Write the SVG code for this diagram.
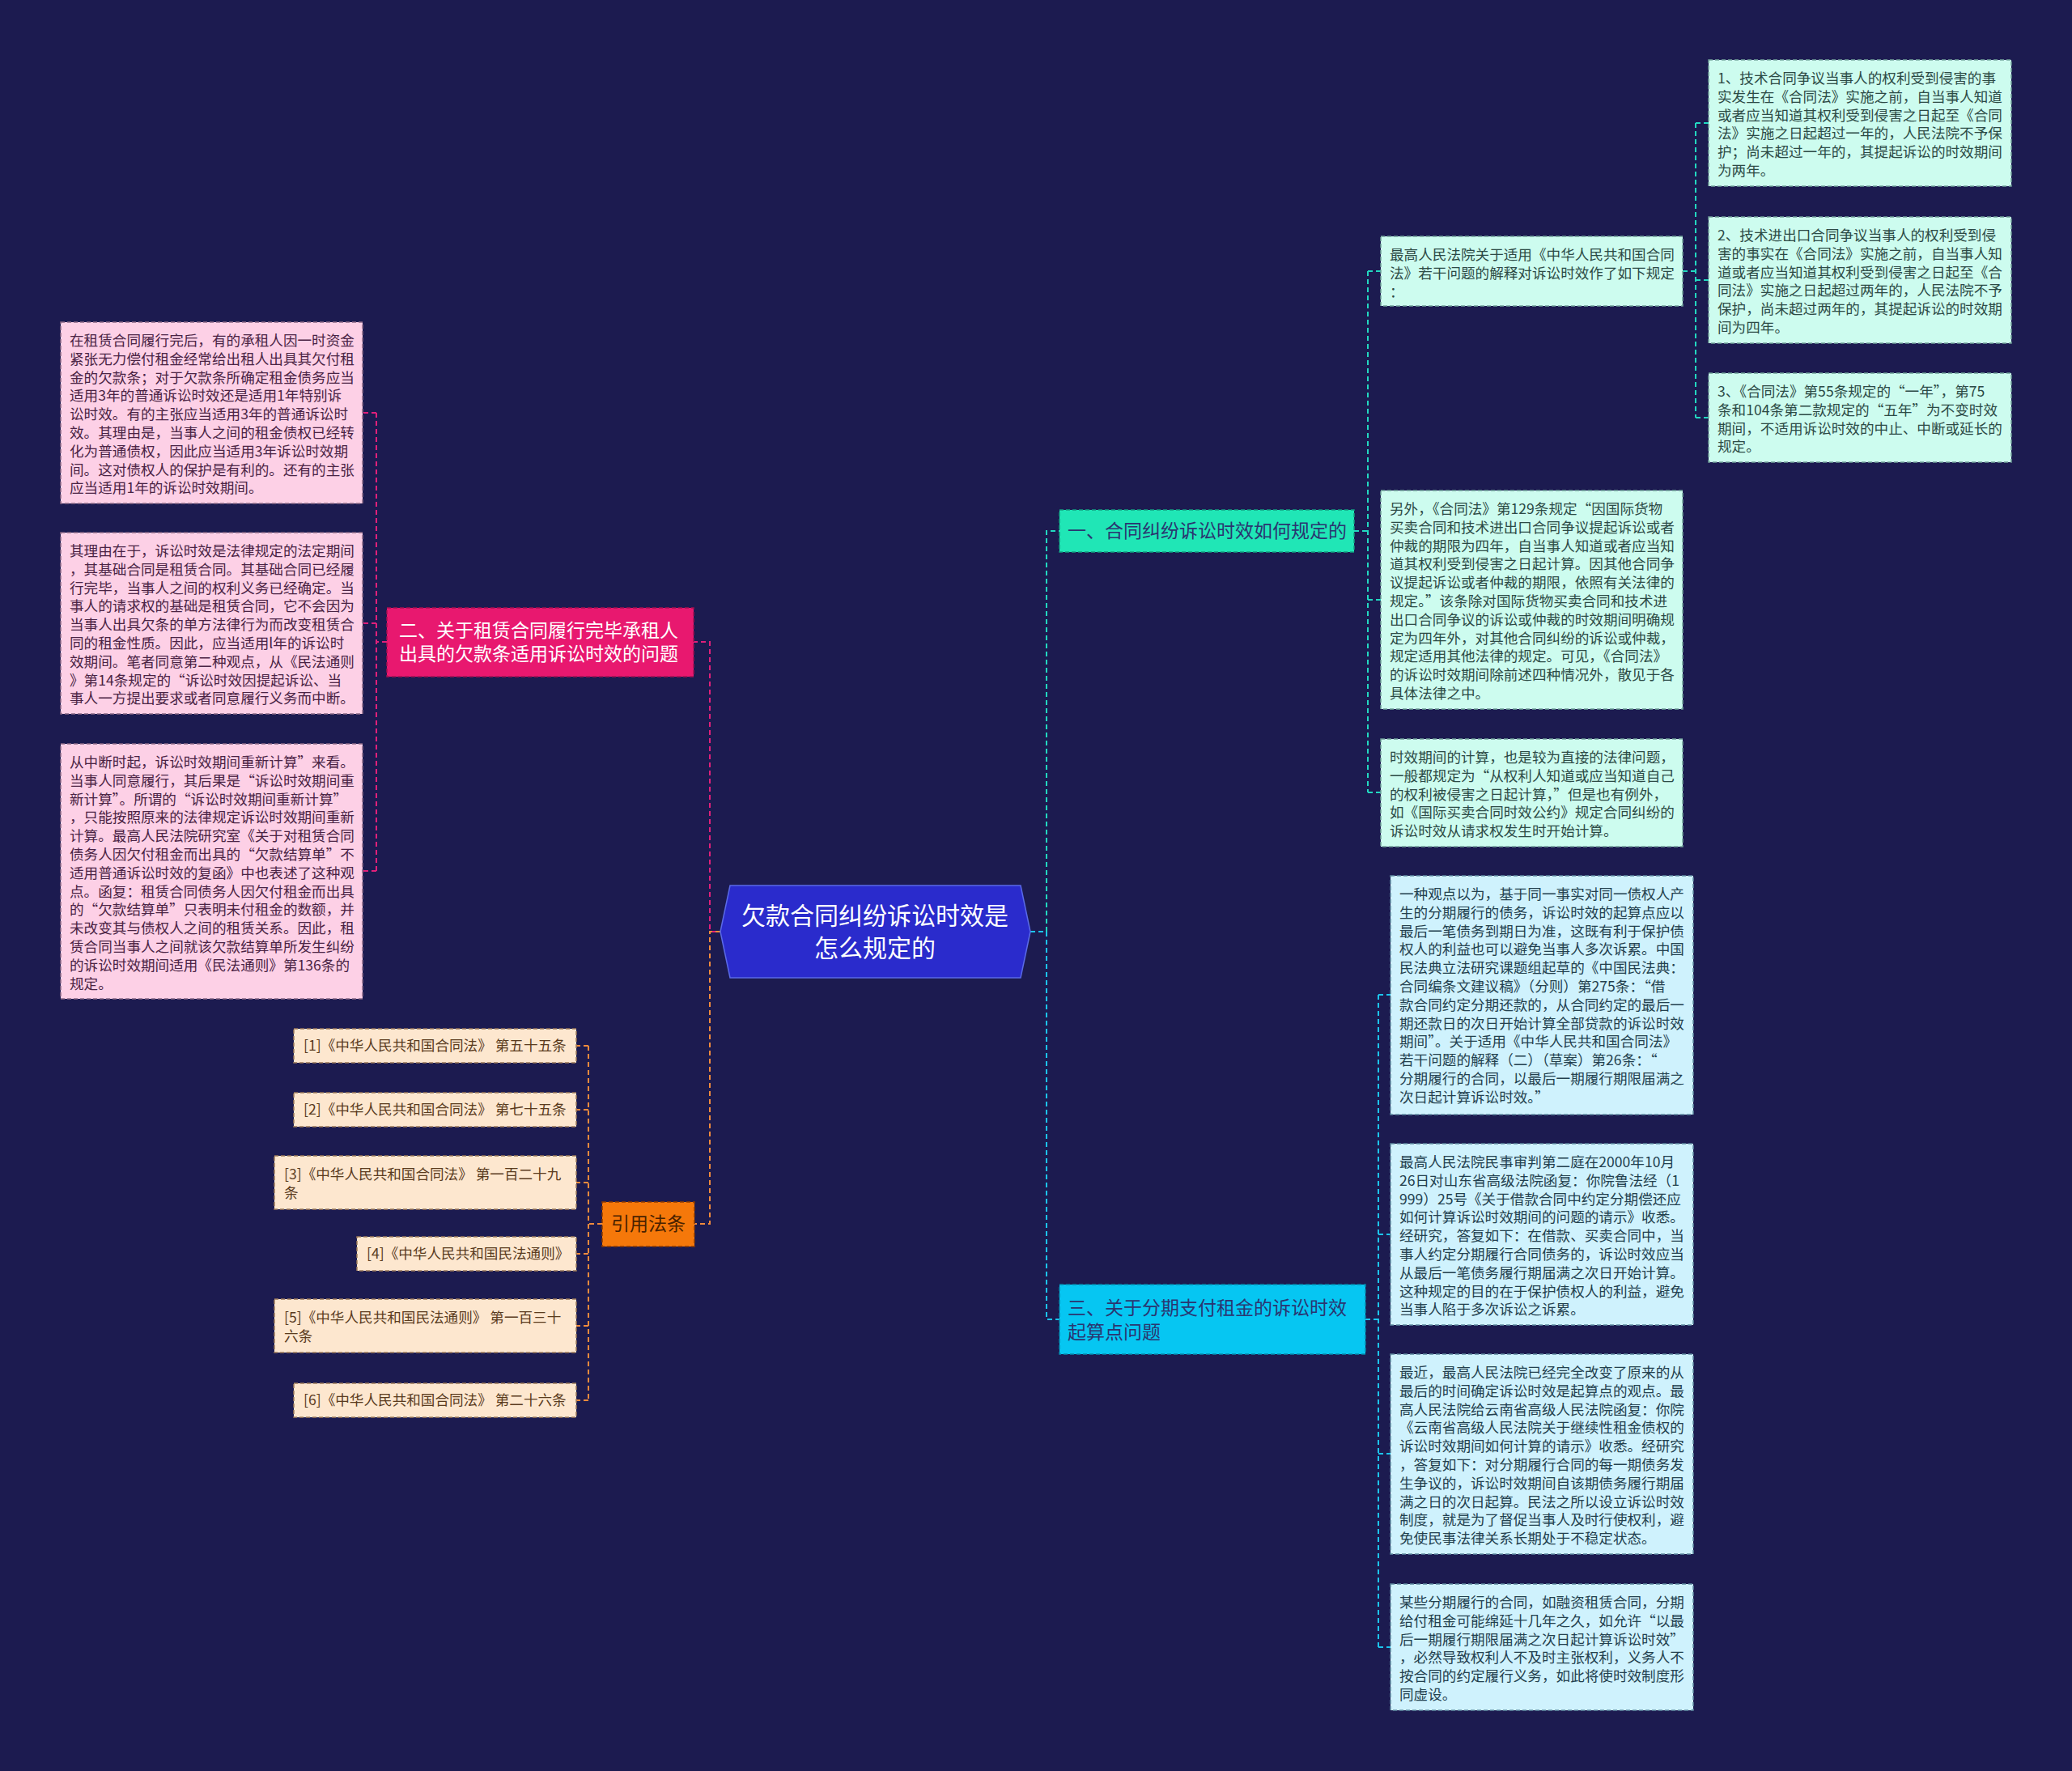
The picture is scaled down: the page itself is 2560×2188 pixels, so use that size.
<svg xmlns="http://www.w3.org/2000/svg" width="2560" height="2188" viewBox="0 0 2560 2188">
<style>
text{font-family:"Noto Sans CJK SC","Liberation Sans",sans-serif;}
.t{font-size:17.6px;}
.mint{fill:#cdfcef;stroke:#6f9e98;stroke-width:1.5;stroke-dasharray:5 3;}
.mint-t{fill:#2c4a45;}
.blue{fill:#cff2fd;stroke:#5f8aa0;stroke-width:1.5;stroke-dasharray:5 3;}
.blue-t{fill:#23404e;}
.pink{fill:#fdd0e6;stroke:#8a6a86;stroke-width:1.5;stroke-dasharray:5 3;}
.pink-t{fill:#4a2344;}
.peach{fill:#fde7cf;stroke:#9a7a5a;stroke-width:1.5;stroke-dasharray:5 3;}
.peach-t{fill:#5a3b1e;}
.c{fill:none;stroke-width:2;stroke-dasharray:6 4;}
.c-or{stroke:#f08a3c;}
.c-mg{stroke:#e0207a;}
.c-tl{stroke:#22d8c0;}
.c-cy{stroke:#1cc4ec;}
.bt{font-size:23px;}
</style>
<rect x="0" y="0" width="2560" height="2188" fill="#1c1b50"/>

<g id="connectors">
  <path class="c c-mg" d="M884,1151 H877 V793 H857"/>
  <path class="c c-or" d="M890,1151 H877 V1512 H858"/>
  <path class="c c-tl" d="M1273,1151 H1293 V656 H1309"/>
  <path class="c c-cy" d="M1273,1151 H1293 V1630 H1309"/>
  <path class="c c-tl" d="M1673,656 H1690 M1690,335 V979 M1690,335 H1706 M1690,741 H1706 M1690,979 H1706"/>
  <path class="c c-tl" d="M2079,335 H2095 M2095,152 V516 M2095,152 H2111 M2095,346 H2111 M2095,516 H2111"/>
  <path class="c c-cy" d="M1687,1630 H1703 M1703,1229 V2035 M1703,1229 H1718 M1703,1525 H1718 M1703,1796 H1718 M1703,2035 H1718"/>
  <path class="c c-mg" d="M478,793 H465 M465,510 V1076 M465,510 H448 M465,770 H448 M465,1076 H448"/>
  <path class="c c-or" d="M744,1512 H727 M727,1292 V1730 M727,1292 H712 M727,1371 H712 M727,1461 H712 M727,1549 H712 M727,1638 H712 M727,1730 H712"/>
</g>

<g id="center">
  <polygon points="902,1094 1261,1094 1273,1151 1261,1208 902,1208 890,1151" fill="#2a2bcc" stroke="#5a6ae8" stroke-width="1.5"/>
  <text x="1081" y="1142" font-size="30" fill="#ffffff" text-anchor="middle">欠款合同纠纷诉讼时效是</text>
  <text x="1081" y="1182" font-size="30" fill="#ffffff" text-anchor="middle">怎么规定的</text>
</g>

<g id="branch1">
  <rect x="1309" y="630" width="364" height="52" fill="#20e6b6" stroke="#129e80" stroke-width="1.5" stroke-dasharray="5 3"/>
  <text class="bt" x="1319" y="664" fill="#2a3570">一、合同纠纷诉讼时效如何规定的</text>
</g>
<g id="branch2">
  <rect x="478" y="751" width="379" height="85" fill="#e8186f" stroke="#a01050" stroke-width="1.5" stroke-dasharray="5 3"/>
  <text class="bt" x="493" y="787" fill="#ffffff">二、关于租赁合同履行完毕承租人</text>
  <text class="bt" x="493" y="816" fill="#ffffff">出具的欠款条适用诉讼时效的问题</text>
</g>
<g id="branch3">
  <rect x="1309" y="1587" width="378" height="86" fill="#06c6f2" stroke="#0588aa" stroke-width="1.5" stroke-dasharray="5 3"/>
  <text class="bt" x="1319" y="1624" fill="#2a3570">三、关于分期支付租金的诉讼时效</text>
  <text class="bt" x="1319" y="1654" fill="#2a3570">起算点问题</text>
</g>
<g id="branch4">
  <rect x="744" y="1485" width="114" height="55" fill="#f5780a" stroke="#8a3a00" stroke-width="1.5" stroke-dasharray="5 3"/>
  <text class="bt" x="801" y="1520" fill="#4a2200" text-anchor="middle">引用法条</text>
</g>

<g id="t1">
  <rect class="mint" x="2111" y="74" width="374" height="156"/>
  <text class="t mint-t" x="2122" y="103"><tspan x="2122" dy="0">1、技术合同争议当事人的权利受到侵害的事</tspan><tspan x="2122" dy="22.8">实发生在《合同法》实施之前，自当事人知道</tspan><tspan x="2122" dy="22.8">或者应当知道其权利受到侵害之日起至《合同</tspan><tspan x="2122" dy="22.8">法》实施之日起超过一年的，人民法院不予保</tspan><tspan x="2122" dy="22.8">护；尚未超过一年的，其提起诉讼的时效期间</tspan><tspan x="2122" dy="22.8">为两年。</tspan></text>
</g>
<g id="t2">
  <rect class="mint" x="2111" y="268" width="374" height="156"/>
  <text class="t mint-t" x="2122" y="297"><tspan x="2122" dy="0">2、技术进出口合同争议当事人的权利受到侵</tspan><tspan x="2122" dy="22.8">害的事实在《合同法》实施之前，自当事人知</tspan><tspan x="2122" dy="22.8">道或者应当知道其权利受到侵害之日起至《合</tspan><tspan x="2122" dy="22.8">同法》实施之日起超过两年的，人民法院不予</tspan><tspan x="2122" dy="22.8">保护，尚未超过两年的，其提起诉讼的时效期</tspan><tspan x="2122" dy="22.8">间为四年。</tspan></text>
</g>
<g id="t3">
  <rect class="mint" x="2111" y="461" width="374" height="110"/>
  <text class="t mint-t" x="2122" y="490"><tspan x="2122" dy="0">3、《合同法》第55条规定的“一年”，第75</tspan><tspan x="2122" dy="22.8">条和104条第二款规定的“五年”为不变时效</tspan><tspan x="2122" dy="22.8">期间，不适用诉讼时效的中止、中断或延长的</tspan><tspan x="2122" dy="22.8">规定。</tspan></text>
</g>

<g id="r1">
  <rect class="mint" x="1706" y="292" width="373" height="86"/>
  <text class="t mint-t" x="1717" y="321"><tspan x="1717" dy="0">最高人民法院关于适用《中华人民共和国合同</tspan><tspan x="1717" dy="22.8">法》若干问题的解释对诉讼时效作了如下规定</tspan><tspan x="1717" dy="22.8">：</tspan></text>
</g>
<g id="r2">
  <rect class="mint" x="1706" y="606" width="373" height="270"/>
  <text class="t mint-t" x="1717" y="635"><tspan x="1717" dy="0">另外，《合同法》第129条规定“因国际货物</tspan><tspan x="1717" dy="22.8">买卖合同和技术进出口合同争议提起诉讼或者</tspan><tspan x="1717" dy="22.8">仲裁的期限为四年，自当事人知道或者应当知</tspan><tspan x="1717" dy="22.8">道其权利受到侵害之日起计算。因其他合同争</tspan><tspan x="1717" dy="22.8">议提起诉讼或者仲裁的期限，依照有关法律的</tspan><tspan x="1717" dy="22.8">规定。”该条除对国际货物买卖合同和技术进</tspan><tspan x="1717" dy="22.8">出口合同争议的诉讼或仲裁的时效期间明确规</tspan><tspan x="1717" dy="22.8">定为四年外，对其他合同纠纷的诉讼或仲裁，</tspan><tspan x="1717" dy="22.8">规定适用其他法律的规定。可见，《合同法》</tspan><tspan x="1717" dy="22.8">的诉讼时效期间除前述四种情况外，散见于各</tspan><tspan x="1717" dy="22.8">具体法律之中。</tspan></text>
</g>
<g id="r3">
  <rect class="mint" x="1706" y="913" width="373" height="133"/>
  <text class="t mint-t" x="1717" y="942"><tspan x="1717" dy="0">时效期间的计算，也是较为直接的法律问题，</tspan><tspan x="1717" dy="22.8">一般都规定为“从权利人知道或应当知道自己</tspan><tspan x="1717" dy="22.8">的权利被侵害之日起计算，”但是也有例外，</tspan><tspan x="1717" dy="22.8">如《国际买卖合同时效公约》规定合同纠纷的</tspan><tspan x="1717" dy="22.8">诉讼时效从请求权发生时开始计算。</tspan></text>
</g>

<g id="s1">
  <rect class="blue" x="1718" y="1082" width="374" height="295"/>
  <text class="t blue-t" x="1729" y="1111"><tspan x="1729" dy="0">一种观点以为，基于同一事实对同一债权人产</tspan><tspan x="1729" dy="22.8">生的分期履行的债务，诉讼时效的起算点应以</tspan><tspan x="1729" dy="22.8">最后一笔债务到期日为准，这既有利于保护债</tspan><tspan x="1729" dy="22.8">权人的利益也可以避免当事人多次诉累。中国</tspan><tspan x="1729" dy="22.8">民法典立法研究课题组起草的《中国民法典：</tspan><tspan x="1729" dy="22.8">合同编条文建议稿》（分则）第275条：“借</tspan><tspan x="1729" dy="22.8">款合同约定分期还款的，从合同约定的最后一</tspan><tspan x="1729" dy="22.8">期还款日的次日开始计算全部贷款的诉讼时效</tspan><tspan x="1729" dy="22.8">期间”。关于适用《中华人民共和国合同法》</tspan><tspan x="1729" dy="22.8">若干问题的解释（二）（草案）第26条：“</tspan><tspan x="1729" dy="22.8">分期履行的合同，以最后一期履行期限届满之</tspan><tspan x="1729" dy="22.8">次日起计算诉讼时效。”</tspan></text>
</g>
<g id="s2">
  <rect class="blue" x="1718" y="1413" width="374" height="224"/>
  <text class="t blue-t" x="1729" y="1442"><tspan x="1729" dy="0">最高人民法院民事审判第二庭在2000年10月</tspan><tspan x="1729" dy="22.8">26日对山东省高级法院函复：你院鲁法经（1</tspan><tspan x="1729" dy="22.8">999）25号《关于借款合同中约定分期偿还应</tspan><tspan x="1729" dy="22.8">如何计算诉讼时效期间的问题的请示》收悉。</tspan><tspan x="1729" dy="22.8">经研究，答复如下：在借款、买卖合同中，当</tspan><tspan x="1729" dy="22.8">事人约定分期履行合同债务的，诉讼时效应当</tspan><tspan x="1729" dy="22.8">从最后一笔债务履行期届满之次日开始计算。</tspan><tspan x="1729" dy="22.8">这种规定的目的在于保护债权人的利益，避免</tspan><tspan x="1729" dy="22.8">当事人陷于多次诉讼之诉累。</tspan></text>
</g>
<g id="s3">
  <rect class="blue" x="1718" y="1673" width="374" height="247"/>
  <text class="t blue-t" x="1729" y="1702"><tspan x="1729" dy="0">最近，最高人民法院已经完全改变了原来的从</tspan><tspan x="1729" dy="22.8">最后的时间确定诉讼时效是起算点的观点。最</tspan><tspan x="1729" dy="22.8">高人民法院给云南省高级人民法院函复：你院</tspan><tspan x="1729" dy="22.8">《云南省高级人民法院关于继续性租金债权的</tspan><tspan x="1729" dy="22.8">诉讼时效期间如何计算的请示》收悉。经研究</tspan><tspan x="1729" dy="22.8">，答复如下：对分期履行合同的每一期债务发</tspan><tspan x="1729" dy="22.8">生争议的，诉讼时效期间自该期债务履行期届</tspan><tspan x="1729" dy="22.8">满之日的次日起算。民法之所以设立诉讼时效</tspan><tspan x="1729" dy="22.8">制度，就是为了督促当事人及时行使权利，避</tspan><tspan x="1729" dy="22.8">免使民事法律关系长期处于不稳定状态。</tspan></text>
</g>
<g id="s4">
  <rect class="blue" x="1718" y="1957" width="374" height="156"/>
  <text class="t blue-t" x="1729" y="1986"><tspan x="1729" dy="0">某些分期履行的合同，如融资租赁合同，分期</tspan><tspan x="1729" dy="22.8">给付租金可能绵延十几年之久，如允许“以最</tspan><tspan x="1729" dy="22.8">后一期履行期限届满之次日起计算诉讼时效”</tspan><tspan x="1729" dy="22.8">，必然导致权利人不及时主张权利，义务人不</tspan><tspan x="1729" dy="22.8">按合同的约定履行义务，如此将使时效制度形</tspan><tspan x="1729" dy="22.8">同虚设。</tspan></text>
</g>

<g id="l1">
  <rect class="pink" x="75" y="398" width="373" height="224"/>
  <text class="t pink-t" x="86" y="427"><tspan x="86" dy="0">在租赁合同履行完后，有的承租人因一时资金</tspan><tspan x="86" dy="22.8">紧张无力偿付租金经常给出租人出具其欠付租</tspan><tspan x="86" dy="22.8">金的欠款条；对于欠款条所确定租金债务应当</tspan><tspan x="86" dy="22.8">适用3年的普通诉讼时效还是适用1年特别诉</tspan><tspan x="86" dy="22.8">讼时效。有的主张应当适用3年的普通诉讼时</tspan><tspan x="86" dy="22.8">效。其理由是，当事人之间的租金债权已经转</tspan><tspan x="86" dy="22.8">化为普通债权，因此应当适用3年诉讼时效期</tspan><tspan x="86" dy="22.8">间。这对债权人的保护是有利的。还有的主张</tspan><tspan x="86" dy="22.8">应当适用1年的诉讼时效期间。</tspan></text>
</g>
<g id="l2">
  <rect class="pink" x="75" y="658" width="373" height="224"/>
  <text class="t pink-t" x="86" y="687"><tspan x="86" dy="0">其理由在于，诉讼时效是法律规定的法定期间</tspan><tspan x="86" dy="22.8">，其基础合同是租赁合同。其基础合同已经履</tspan><tspan x="86" dy="22.8">行完毕，当事人之间的权利义务已经确定。当</tspan><tspan x="86" dy="22.8">事人的请求权的基础是租赁合同，它不会因为</tspan><tspan x="86" dy="22.8">当事人出具欠条的单方法律行为而改变租赁合</tspan><tspan x="86" dy="22.8">同的租金性质。因此，应当适用l年的诉讼时</tspan><tspan x="86" dy="22.8">效期间。笔者同意第二种观点，从《民法通则</tspan><tspan x="86" dy="22.8">》第14条规定的“诉讼时效因提起诉讼、当</tspan><tspan x="86" dy="22.8">事人一方提出要求或者同意履行义务而中断。</tspan></text>
</g>
<g id="l3">
  <rect class="pink" x="75" y="919" width="373" height="315"/>
  <text class="t pink-t" x="86" y="948"><tspan x="86" dy="0">从中断时起，诉讼时效期间重新计算”来看。</tspan><tspan x="86" dy="22.8">当事人同意履行，其后果是“诉讼时效期间重</tspan><tspan x="86" dy="22.8">新计算”。所谓的“诉讼时效期间重新计算”</tspan><tspan x="86" dy="22.8">，只能按照原来的法律规定诉讼时效期间重新</tspan><tspan x="86" dy="22.8">计算。最高人民法院研究室《关于对租赁合同</tspan><tspan x="86" dy="22.8">债务人因欠付租金而出具的“欠款结算单”不</tspan><tspan x="86" dy="22.8">适用普通诉讼时效的复函》中也表述了这种观</tspan><tspan x="86" dy="22.8">点。函复：租赁合同债务人因欠付租金而出具</tspan><tspan x="86" dy="22.8">的“欠款结算单”只表明未付租金的数额，并</tspan><tspan x="86" dy="22.8">未改变其与债权人之间的租赁关系。因此，租</tspan><tspan x="86" dy="22.8">赁合同当事人之间就该欠款结算单所发生纠纷</tspan><tspan x="86" dy="22.8">的诉讼时效期间适用《民法通则》第136条的</tspan><tspan x="86" dy="22.8">规定。</tspan></text>
</g>

<g id="cite1">
  <rect class="peach" x="363" y="1271" width="349" height="42"/>
  <text class="t peach-t" x="375" y="1298">[1]《中华人民共和国合同法》 第五十五条</text>
</g>
<g id="cite2">
  <rect class="peach" x="363" y="1350" width="349" height="42"/>
  <text class="t peach-t" x="375" y="1377">[2]《中华人民共和国合同法》 第七十五条</text>
</g>
<g id="cite3">
  <rect class="peach" x="339" y="1428" width="373" height="66"/>
  <text class="t peach-t" x="351" y="1457"><tspan x="351" dy="0">[3]《中华人民共和国合同法》 第一百二十九</tspan><tspan x="351" dy="22.8">条</tspan></text>
</g>
<g id="cite4">
  <rect class="peach" x="441" y="1528" width="271" height="42"/>
  <text class="t peach-t" x="453" y="1555">[4]《中华人民共和国民法通则》</text>
</g>
<g id="cite5">
  <rect class="peach" x="339" y="1605" width="373" height="66"/>
  <text class="t peach-t" x="351" y="1634"><tspan x="351" dy="0">[5]《中华人民共和国民法通则》 第一百三十</tspan><tspan x="351" dy="22.8">六条</tspan></text>
</g>
<g id="cite6">
  <rect class="peach" x="363" y="1709" width="349" height="42"/>
  <text class="t peach-t" x="375" y="1736">[6]《中华人民共和国合同法》 第二十六条</text>
</g>
</svg>
